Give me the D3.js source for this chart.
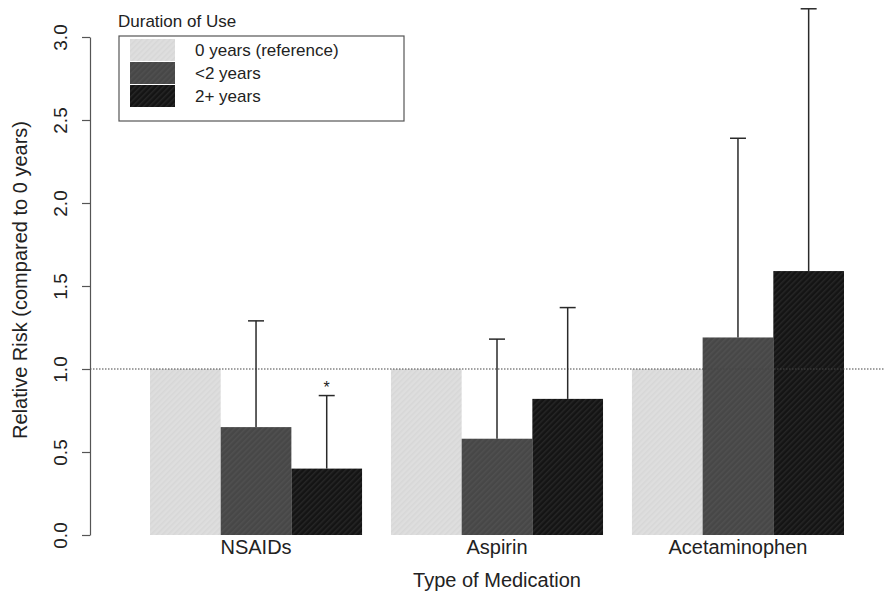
<!DOCTYPE html>
<html>
<head>
<meta charset="utf-8">
<script src="https://cdn.jsdelivr.net/npm/d3@7"></script>
<style>
  body { margin: 0; background: #fff; }
  svg { font-family: "Liberation Sans", Arial, Helvetica, sans-serif; }
</style>
</head>
<body>
<div id="chart"></div>
<script>
var categories = ["NSAIDs", "Aspirin", "Acetaminophen"];
var durations = ["0 years (reference)", "<2 years", "2+ years"];

// relative risk per duration, one value per category
var riskRef = [1.0, 1.0, 1.0];
var riskShort = [0.65, 0.58, 1.19];
var riskLong = [0.40, 0.82, 1.59];

// upper end of the error bars (reference group has none)
var upperShort = [1.29, 1.18, 2.39];
var upperLong = [0.84, 1.37, 3.17];

var yTicks = [0, 0.5, 1.0, 1.5, 2.0, 2.5, 3.0];

var fills = ["#dedede", "#474747", "#141414"];

var w = 884, h = 594;

var svg = d3.select("#chart")
  .append("svg")
  .attr("width", w)
  .attr("height", h);

// scanned-look textures
var defs = svg.append("defs");
fills.forEach(function(c, i) {
  var p = defs.append("pattern")
    .attr("id", "tex" + i)
    .attr("patternUnits", "userSpaceOnUse")
    .attr("width", 4)
    .attr("height", 4)
    .attr("patternTransform", "rotate(45)");
  p.append("rect").attr("width", 4).attr("height", 4).attr("fill", c);
  p.append("rect").attr("width", 1.5).attr("height", 4)
    .attr("fill", i === 0 ? "#cfcfcf" : "#5a5a5a")
    .attr("opacity", i === 2 ? 0.25 : 0.5);
});

var y = d3.scaleLinear()
  .domain([0, 3])
  .range([535, 37]);

var x0 = d3.scaleBand()
  .domain(categories)
  .range([150, 844])
  .paddingInner(0.12)
  .paddingOuter(0);

var x1 = d3.scaleBand()
  .domain(durations)
  .range([0, x0.bandwidth()]);

// build rows for drawing
var rows = [];
categories.forEach(function(cat, i) {
  rows.push({cat: cat, dur: durations[0], k: 0, v: riskRef[i], up: null});
  rows.push({cat: cat, dur: durations[1], k: 1, v: riskShort[i], up: upperShort[i]});
  rows.push({cat: cat, dur: durations[2], k: 2, v: riskLong[i], up: upperLong[i]});
});

// bars
svg.append("g")
  .selectAll("rect")
  .data(rows)
  .enter()
  .append("rect")
  .attr("x", function(d) { return x0(d.cat) + x1(d.dur); })
  .attr("y", function(d) { return y(d.v); })
  .attr("width", x1.bandwidth())
  .attr("height", function(d) { return y(0) - y(d.v); })
  .attr("fill", function(d) { return "url(#tex" + d.k + ")"; });

// reference line at 1.0
svg.append("line")
  .attr("x1", 90)
  .attr("x2", w)
  .attr("y1", y(1))
  .attr("y2", y(1))
  .attr("stroke", "#444")
  .attr("stroke-width", 1.2)
  .attr("stroke-dasharray", "1.5,1.5");

// error bars
var errs = rows.filter(function(d) { return d.up !== null; });
var cx = function(d) { return x0(d.cat) + x1(d.dur) + x1.bandwidth() / 2; };

var eg = svg.append("g")
  .attr("stroke", "#2a2a2a")
  .attr("stroke-width", 1.5);

eg.selectAll(".stem")
  .data(errs)
  .enter()
  .append("line")
  .attr("x1", cx)
  .attr("x2", cx)
  .attr("y1", function(d) { return y(d.v); })
  .attr("y2", function(d) { return y(d.up); });

eg.selectAll(".cap")
  .data(errs)
  .enter()
  .append("line")
  .attr("x1", function(d) { return cx(d) - 8; })
  .attr("x2", function(d) { return cx(d) + 8; })
  .attr("y1", function(d) { return y(d.up); })
  .attr("y2", function(d) { return y(d.up); });

// significance mark on NSAIDs 2+ years
var star = rows.filter(function(d) { return d.cat === "NSAIDs" && d.k === 2; })[0];
svg.append("text")
  .attr("x", cx(star))
  .attr("y", y(star.up) - 3)
  .attr("text-anchor", "middle")
  .attr("font-size", 16)
  .attr("fill", "#222")
  .text("*");

// y axis
var yAxis = d3.axisLeft(y)
  .tickValues(yTicks)
  .tickFormat(d3.format(".1f"))
  .tickSize(8)
  .tickSizeOuter(0)
  .tickPadding(12);

var ya = svg.append("g")
  .attr("transform", "translate(90,0)")
  .call(yAxis);

ya.select(".domain").attr("stroke", "#555").attr("stroke-width", 1.2);
ya.selectAll(".tick line").attr("stroke", "#555").attr("stroke-width", 1.2);
ya.selectAll(".tick text")
  .attr("font-size", 19)
  .attr("fill", "#222")
  .attr("x", -23)
  .attr("dy", 0)
  .attr("transform", "rotate(-90)")
  .attr("text-anchor", "middle")
  .each(function() {
    // rotated around tick origin: move label left of the axis
    d3.select(this).attr("x", 0).attr("y", -23);
  });

// category labels
svg.append("g")
  .selectAll("text")
  .data(categories)
  .enter()
  .append("text")
  .attr("x", function(d) { return x0(d) + x0.bandwidth() / 2; })
  .attr("y", 554)
  .attr("text-anchor", "middle")
  .attr("font-size", 20)
  .attr("fill", "#222")
  .text(function(d) { return d; });

// axis titles
svg.append("text")
  .attr("x", 497)
  .attr("y", 587)
  .attr("text-anchor", "middle")
  .attr("font-size", 20)
  .attr("fill", "#222")
  .text("Type of Medication");

svg.append("text")
  .attr("transform", "translate(27,280) rotate(-90)")
  .attr("text-anchor", "middle")
  .attr("font-size", 20)
  .attr("fill", "#222")
  .text("Relative Risk (compared to 0 years)");

// legend
svg.append("text")
  .attr("x", 118)
  .attr("y", 27)
  .attr("font-size", 17)
  .attr("fill", "#222")
  .text("Duration of Use");

svg.append("rect")
  .attr("x", 119)
  .attr("y", 36)
  .attr("width", 285)
  .attr("height", 85)
  .attr("fill", "none")
  .attr("stroke", "#555")
  .attr("stroke-width", 1.2);

var lg = svg.append("g")
  .selectAll("g")
  .data(durations)
  .enter()
  .append("g")
  .attr("transform", function(d, i) { return "translate(130," + (39 + i * 23) + ")"; });

lg.append("rect")
  .attr("width", 45)
  .attr("height", 22)
  .attr("fill", function(d, i) { return "url(#tex" + i + ")"; });

lg.append("text")
  .attr("x", 65)
  .attr("y", 17)
  .attr("font-size", 17)
  .attr("fill", "#222")
  .text(function(d) { return d; });
</script>
</body>
</html>
